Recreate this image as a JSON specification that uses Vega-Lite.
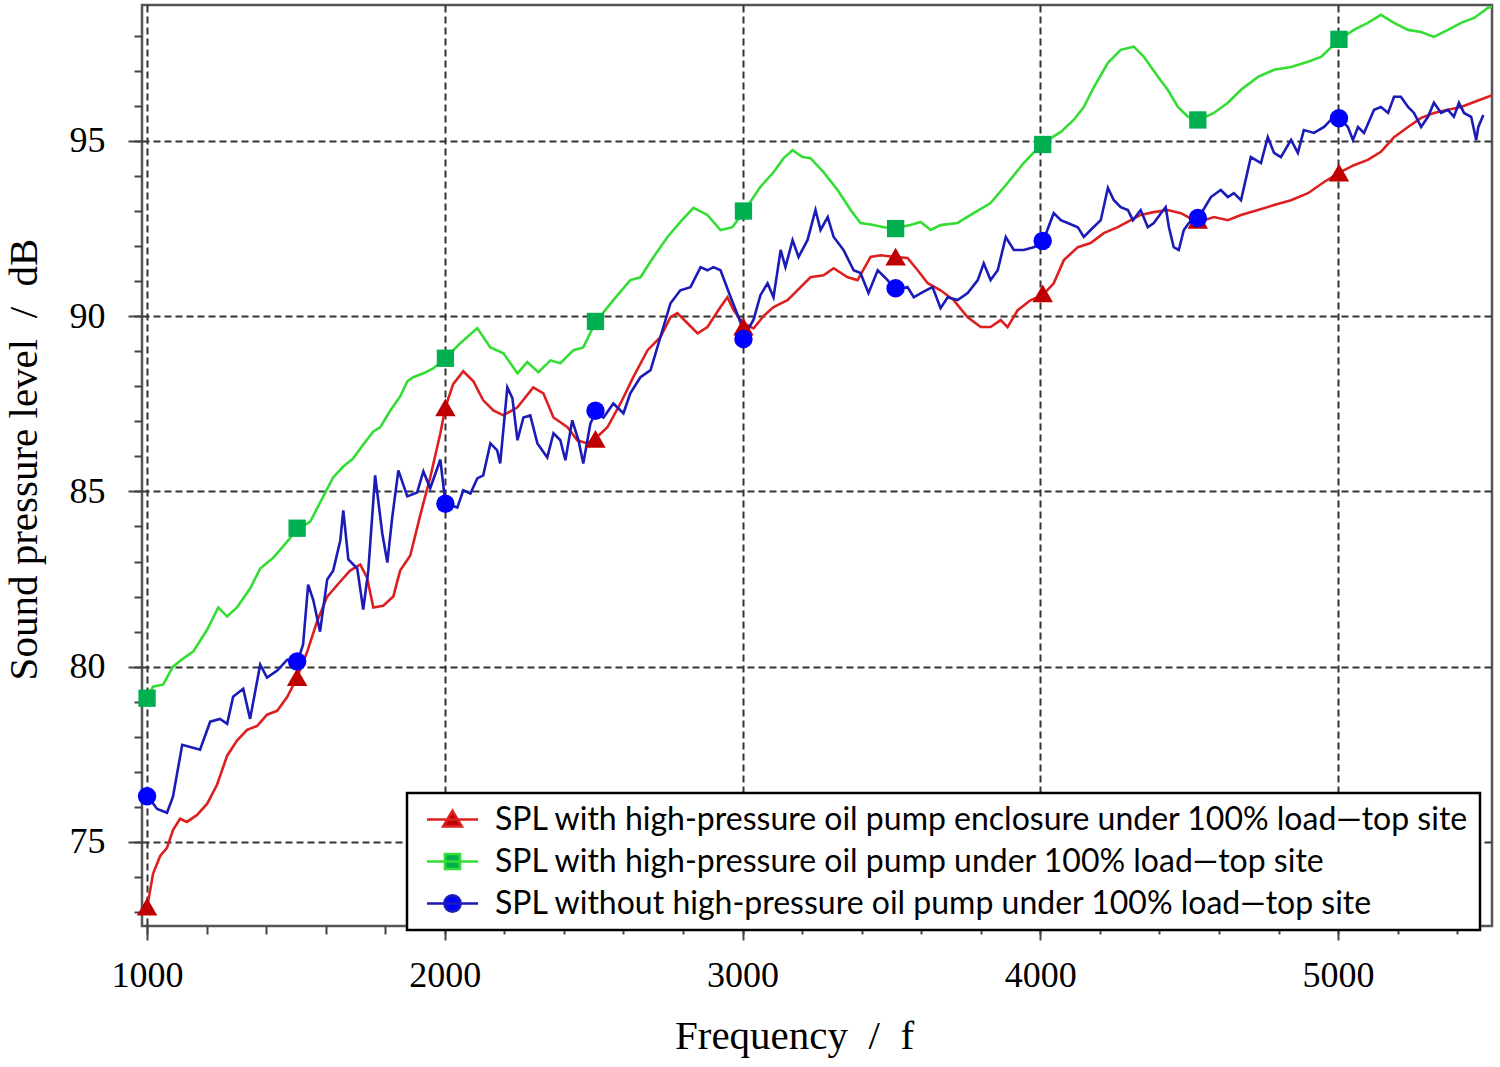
{
  "$schema": "https://vega.github.io/schema/vega-lite/v6.json",
  "width": 1350,
  "height": 921,
  "autosize": {"type": "none"},
  "padding": {"left": 142, "top": 5, "right": 8, "bottom": 141},
  "background": "white",
  "datasets": {
    "curves": [
      {"s":"r","f":1000,"v":73.11},{"s":"r","f":1020,"v":74.09},{"s":"r","f":1044,"v":74.6},{"s":"r","f":1067,"v":74.83},{"s":"r","f":1087,"v":75.34},{"s":"r","f":1111,"v":75.66},{"s":"r","f":1134,"v":75.57},{"s":"r","f":1168,"v":75.77},{"s":"r","f":1202,"v":76.09},{"s":"r","f":1235,"v":76.63},{"s":"r","f":1269,"v":77.46},{"s":"r","f":1302,"v":77.89},{"s":"r","f":1336,"v":78.2},{"s":"r","f":1370,"v":78.31},{"s":"r","f":1403,"v":78.63},{"s":"r","f":1437,"v":78.74},{"s":"r","f":1471,"v":79.14},{"s":"r","f":1504,"v":79.69},{"s":"r","f":1538,"v":80.43},{"s":"r","f":1571,"v":81.29},{"s":"r","f":1605,"v":82.0},{"s":"r","f":1649,"v":82.43},{"s":"r","f":1682,"v":82.74},{"s":"r","f":1716,"v":82.91},{"s":"r","f":1739,"v":82.54},{"s":"r","f":1760,"v":81.69},{"s":"r","f":1793,"v":81.74},{"s":"r","f":1827,"v":82.0},{"s":"r","f":1850,"v":82.74},{"s":"r","f":1884,"v":83.17},{"s":"r","f":1918,"v":84.34},{"s":"r","f":1951,"v":85.4},{"s":"r","f":1985,"v":86.66},{"s":"r","f":2002,"v":87.4},{"s":"r","f":2028,"v":88.06},{"s":"r","f":2062,"v":88.43},{"s":"r","f":2096,"v":88.14},{"s":"r","f":2129,"v":87.6},{"s":"r","f":2163,"v":87.31},{"s":"r","f":2197,"v":87.17},{"s":"r","f":2244,"v":87.4},{"s":"r","f":2297,"v":87.97},{"s":"r","f":2331,"v":87.8},{"s":"r","f":2365,"v":87.11},{"s":"r","f":2412,"v":86.83},{"s":"r","f":2445,"v":86.46},{"s":"r","f":2479,"v":86.37},{"s":"r","f":2506,"v":86.51},{"s":"r","f":2546,"v":86.83},{"s":"r","f":2590,"v":87.51},{"s":"r","f":2633,"v":88.26},{"s":"r","f":2681,"v":89.03},{"s":"r","f":2724,"v":89.4},{"s":"r","f":2758,"v":89.97},{"s":"r","f":2781,"v":90.09},{"s":"r","f":2815,"v":89.8},{"s":"r","f":2849,"v":89.51},{"s":"r","f":2882,"v":89.69},{"s":"r","f":2926,"v":90.26},{"s":"r","f":2949,"v":90.54},{"s":"r","f":2970,"v":90.17},{"s":"r","f":3003,"v":89.8},{"s":"r","f":3037,"v":89.65},{"s":"r","f":3070,"v":90.0},{"s":"r","f":3104,"v":90.26},{"s":"r","f":3151,"v":90.46},{"s":"r","f":3195,"v":90.83},{"s":"r","f":3228,"v":91.11},{"s":"r","f":3272,"v":91.17},{"s":"r","f":3306,"v":91.37},{"s":"r","f":3353,"v":91.11},{"s":"r","f":3386,"v":91.03},{"s":"r","f":3430,"v":91.69},{"s":"r","f":3464,"v":91.74},{"s":"r","f":3514,"v":91.69},{"s":"r","f":3554,"v":91.66},{"s":"r","f":3588,"v":91.31},{"s":"r","f":3622,"v":90.94},{"s":"r","f":3665,"v":90.74},{"s":"r","f":3709,"v":90.46},{"s":"r","f":3756,"v":89.97},{"s":"r","f":3800,"v":89.69},{"s":"r","f":3833,"v":89.69},{"s":"r","f":3867,"v":89.89},{"s":"r","f":3890,"v":89.69},{"s":"r","f":3924,"v":90.17},{"s":"r","f":3968,"v":90.46},{"s":"r","f":4008,"v":90.6},{"s":"r","f":4045,"v":90.94},{"s":"r","f":4079,"v":91.6},{"s":"r","f":4126,"v":91.97},{"s":"r","f":4169,"v":92.09},{"s":"r","f":4213,"v":92.37},{"s":"r","f":4260,"v":92.54},{"s":"r","f":4304,"v":92.74},{"s":"r","f":4337,"v":92.89},{"s":"r","f":4381,"v":92.97},{"s":"r","f":4428,"v":93.03},{"s":"r","f":4472,"v":92.94},{"s":"r","f":4516,"v":92.74},{"s":"r","f":4533,"v":92.69},{"s":"r","f":4583,"v":92.83},{"s":"r","f":4630,"v":92.74},{"s":"r","f":4674,"v":92.89},{"s":"r","f":4731,"v":93.03},{"s":"r","f":4785,"v":93.17},{"s":"r","f":4842,"v":93.31},{"s":"r","f":4899,"v":93.51},{"s":"r","f":4953,"v":93.83},{"s":"r","f":5003,"v":94.09},{"s":"r","f":5053,"v":94.31},{"s":"r","f":5100,"v":94.46},{"s":"r","f":5144,"v":94.69},{"s":"r","f":5188,"v":95.11},{"s":"r","f":5235,"v":95.4},{"s":"r","f":5279,"v":95.66},{"s":"r","f":5322,"v":95.8},{"s":"r","f":5369,"v":95.89},{"s":"r","f":5413,"v":95.97},{"s":"r","f":5457,"v":96.11},{"s":"r","f":5504,"v":96.26},{"s":"r","f":5517,"v":96.31},

      {"s":"g","f":1000,"v":79.11},{"s":"g","f":1020,"v":79.43},{"s":"g","f":1054,"v":79.49},{"s":"g","f":1087,"v":80.0},{"s":"g","f":1121,"v":80.23},{"s":"g","f":1155,"v":80.43},{"s":"g","f":1202,"v":81.06},{"s":"g","f":1239,"v":81.69},{"s":"g","f":1269,"v":81.43},{"s":"g","f":1302,"v":81.69},{"s":"g","f":1346,"v":82.23},{"s":"g","f":1380,"v":82.8},{"s":"g","f":1424,"v":83.11},{"s":"g","f":1457,"v":83.43},{"s":"g","f":1504,"v":83.91},{"s":"g","f":1548,"v":84.14},{"s":"g","f":1592,"v":84.86},{"s":"g","f":1625,"v":85.4},{"s":"g","f":1659,"v":85.71},{"s":"g","f":1692,"v":85.94},{"s":"g","f":1726,"v":86.34},{"s":"g","f":1760,"v":86.71},{"s":"g","f":1783,"v":86.83},{"s":"g","f":1817,"v":87.31},{"s":"g","f":1850,"v":87.71},{"s":"g","f":1874,"v":88.14},{"s":"g","f":1894,"v":88.26},{"s":"g","f":1928,"v":88.37},{"s":"g","f":1961,"v":88.51},{"s":"g","f":2002,"v":88.8},{"s":"g","f":2052,"v":89.23},{"s":"g","f":2109,"v":89.66},{"s":"g","f":2153,"v":89.11},{"s":"g","f":2197,"v":88.94},{"s":"g","f":2244,"v":88.37},{"s":"g","f":2277,"v":88.69},{"s":"g","f":2314,"v":88.4},{"s":"g","f":2355,"v":88.74},{"s":"g","f":2388,"v":88.66},{"s":"g","f":2432,"v":89.03},{"s":"g","f":2465,"v":89.11},{"s":"g","f":2506,"v":89.83},{"s":"g","f":2566,"v":90.46},{"s":"g","f":2623,"v":91.03},{"s":"g","f":2657,"v":91.11},{"s":"g","f":2701,"v":91.69},{"s":"g","f":2748,"v":92.26},{"s":"g","f":2791,"v":92.69},{"s":"g","f":2835,"v":93.09},{"s":"g","f":2882,"v":92.89},{"s":"g","f":2926,"v":92.46},{"s":"g","f":2966,"v":92.54},{"s":"g","f":3003,"v":92.97},{"s":"g","f":3060,"v":93.69},{"s":"g","f":3104,"v":94.11},{"s":"g","f":3138,"v":94.51},{"s":"g","f":3168,"v":94.74},{"s":"g","f":3201,"v":94.54},{"s":"g","f":3228,"v":94.51},{"s":"g","f":3272,"v":94.11},{"s":"g","f":3319,"v":93.6},{"s":"g","f":3363,"v":93.03},{"s":"g","f":3396,"v":92.66},{"s":"g","f":3440,"v":92.6},{"s":"g","f":3474,"v":92.54},{"s":"g","f":3514,"v":92.51},{"s":"g","f":3564,"v":92.6},{"s":"g","f":3598,"v":92.69},{"s":"g","f":3632,"v":92.46},{"s":"g","f":3665,"v":92.6},{"s":"g","f":3722,"v":92.66},{"s":"g","f":3776,"v":92.94},{"s":"g","f":3833,"v":93.23},{"s":"g","f":3890,"v":93.8},{"s":"g","f":3944,"v":94.37},{"s":"g","f":4008,"v":94.94},{"s":"g","f":4069,"v":95.26},{"s":"g","f":4112,"v":95.6},{"s":"g","f":4146,"v":95.97},{"s":"g","f":4180,"v":96.54},{"s":"g","f":4227,"v":97.23},{"s":"g","f":4270,"v":97.6},{"s":"g","f":4314,"v":97.69},{"s":"g","f":4348,"v":97.4},{"s":"g","f":4395,"v":96.83},{"s":"g","f":4428,"v":96.46},{"s":"g","f":4462,"v":95.97},{"s":"g","f":4496,"v":95.69},{"s":"g","f":4533,"v":95.6},{"s":"g","f":4583,"v":95.8},{"s":"g","f":4630,"v":96.09},{"s":"g","f":4674,"v":96.46},{"s":"g","f":4731,"v":96.83},{"s":"g","f":4785,"v":97.03},{"s":"g","f":4842,"v":97.11},{"s":"g","f":4899,"v":97.26},{"s":"g","f":4943,"v":97.4},{"s":"g","f":5003,"v":97.89},{"s":"g","f":5053,"v":98.17},{"s":"g","f":5100,"v":98.37},{"s":"g","f":5144,"v":98.6},{"s":"g","f":5188,"v":98.37},{"s":"g","f":5235,"v":98.17},{"s":"g","f":5279,"v":98.11},{"s":"g","f":5322,"v":97.97},{"s":"g","f":5369,"v":98.17},{"s":"g","f":5413,"v":98.37},{"s":"g","f":5457,"v":98.51},{"s":"g","f":5504,"v":98.8},{"s":"g","f":5517,"v":98.83},

      {"s":"b","f":1003,"v":76.29},{"s":"b","f":1034,"v":75.94},{"s":"b","f":1067,"v":75.83},{"s":"b","f":1087,"v":76.29},{"s":"b","f":1118,"v":77.77},{"s":"b","f":1145,"v":77.71},{"s":"b","f":1178,"v":77.63},{"s":"b","f":1212,"v":78.43},{"s":"b","f":1245,"v":78.51},{"s":"b","f":1269,"v":78.37},{"s":"b","f":1289,"v":79.14},{"s":"b","f":1323,"v":79.37},{"s":"b","f":1346,"v":78.51},{"s":"b","f":1380,"v":80.06},{"s":"b","f":1403,"v":79.69},{"s":"b","f":1437,"v":79.89},{"s":"b","f":1471,"v":80.2},{"s":"b","f":1504,"v":80.11},{"s":"b","f":1524,"v":80.63},{"s":"b","f":1541,"v":82.34},{"s":"b","f":1558,"v":81.91},{"s":"b","f":1581,"v":81.0},{"s":"b","f":1605,"v":82.49},{"s":"b","f":1625,"v":82.74},{"s":"b","f":1649,"v":83.6},{"s":"b","f":1659,"v":84.46},{"s":"b","f":1676,"v":83.06},{"s":"b","f":1706,"v":82.8},{"s":"b","f":1726,"v":81.63},{"s":"b","f":1743,"v":82.74},{"s":"b","f":1766,"v":85.46},{"s":"b","f":1790,"v":83.8},{"s":"b","f":1807,"v":82.97},{"s":"b","f":1823,"v":84.23},{"s":"b","f":1844,"v":85.6},{"s":"b","f":1874,"v":84.86},{"s":"b","f":1907,"v":84.97},{"s":"b","f":1928,"v":85.57},{"s":"b","f":1951,"v":85.09},{"s":"b","f":1985,"v":85.91},{"s":"b","f":2002,"v":84.66},{"s":"b","f":2042,"v":84.54},{"s":"b","f":2062,"v":85.03},{"s":"b","f":2086,"v":84.94},{"s":"b","f":2109,"v":85.37},{"s":"b","f":2129,"v":85.46},{"s":"b","f":2153,"v":86.37},{"s":"b","f":2176,"v":86.17},{"s":"b","f":2186,"v":85.8},{"s":"b","f":2210,"v":87.97},{"s":"b","f":2227,"v":87.66},{"s":"b","f":2244,"v":86.46},{"s":"b","f":2264,"v":87.11},{"s":"b","f":2287,"v":87.17},{"s":"b","f":2311,"v":86.37},{"s":"b","f":2344,"v":85.97},{"s":"b","f":2365,"v":86.66},{"s":"b","f":2388,"v":86.46},{"s":"b","f":2405,"v":85.89},{"s":"b","f":2428,"v":87.03},{"s":"b","f":2449,"v":86.46},{"s":"b","f":2465,"v":85.8},{"s":"b","f":2489,"v":86.94},{"s":"b","f":2506,"v":87.23},{"s":"b","f":2533,"v":87.11},{"s":"b","f":2566,"v":87.51},{"s":"b","f":2600,"v":87.23},{"s":"b","f":2623,"v":87.8},{"s":"b","f":2657,"v":88.26},{"s":"b","f":2691,"v":88.46},{"s":"b","f":2724,"v":89.4},{"s":"b","f":2758,"v":90.37},{"s":"b","f":2791,"v":90.74},{"s":"b","f":2825,"v":90.83},{"s":"b","f":2859,"v":91.4},{"s":"b","f":2882,"v":91.31},{"s":"b","f":2902,"v":91.4},{"s":"b","f":2926,"v":91.31},{"s":"b","f":2960,"v":90.54},{"s":"b","f":2993,"v":89.83},{"s":"b","f":3003,"v":89.4},{"s":"b","f":3037,"v":89.9},{"s":"b","f":3060,"v":90.6},{"s":"b","f":3084,"v":90.94},{"s":"b","f":3104,"v":90.54},{"s":"b","f":3128,"v":91.89},{"s":"b","f":3144,"v":91.4},{"s":"b","f":3168,"v":92.17},{"s":"b","f":3188,"v":91.69},{"s":"b","f":3218,"v":92.17},{"s":"b","f":3245,"v":93.03},{"s":"b","f":3262,"v":92.46},{"s":"b","f":3286,"v":92.83},{"s":"b","f":3306,"v":92.26},{"s":"b","f":3339,"v":91.89},{"s":"b","f":3373,"v":91.31},{"s":"b","f":3396,"v":91.23},{"s":"b","f":3423,"v":90.66},{"s":"b","f":3454,"v":91.31},{"s":"b","f":3487,"v":91.03},{"s":"b","f":3514,"v":90.74},{"s":"b","f":3554,"v":90.83},{"s":"b","f":3575,"v":90.54},{"s":"b","f":3605,"v":90.69},{"s":"b","f":3638,"v":90.83},{"s":"b","f":3665,"v":90.23},{"s":"b","f":3689,"v":90.54},{"s":"b","f":3722,"v":90.46},{"s":"b","f":3756,"v":90.66},{"s":"b","f":3790,"v":91.03},{"s":"b","f":3810,"v":91.51},{"s":"b","f":3833,"v":91.03},{"s":"b","f":3857,"v":91.31},{"s":"b","f":3884,"v":92.26},{"s":"b","f":3911,"v":91.89},{"s":"b","f":3944,"v":91.89},{"s":"b","f":3978,"v":91.97},{"s":"b","f":4008,"v":92.11},{"s":"b","f":4045,"v":92.94},{"s":"b","f":4069,"v":92.74},{"s":"b","f":4092,"v":92.66},{"s":"b","f":4126,"v":92.54},{"s":"b","f":4146,"v":92.26},{"s":"b","f":4169,"v":92.46},{"s":"b","f":4203,"v":92.74},{"s":"b","f":4227,"v":93.66},{"s":"b","f":4247,"v":93.31},{"s":"b","f":4270,"v":93.11},{"s":"b","f":4294,"v":93.03},{"s":"b","f":4311,"v":92.74},{"s":"b","f":4337,"v":93.03},{"s":"b","f":4361,"v":92.54},{"s":"b","f":4381,"v":92.66},{"s":"b","f":4405,"v":92.94},{"s":"b","f":4421,"v":93.11},{"s":"b","f":4432,"v":92.54},{"s":"b","f":4448,"v":91.97},{"s":"b","f":4465,"v":91.89},{"s":"b","f":4482,"v":92.46},{"s":"b","f":4499,"v":92.66},{"s":"b","f":4533,"v":92.83},{"s":"b","f":4573,"v":93.4},{"s":"b","f":4606,"v":93.6},{"s":"b","f":4630,"v":93.4},{"s":"b","f":4650,"v":93.51},{"s":"b","f":4674,"v":93.31},{"s":"b","f":4707,"v":94.54},{"s":"b","f":4741,"v":94.37},{"s":"b","f":4764,"v":95.11},{"s":"b","f":4785,"v":94.66},{"s":"b","f":4808,"v":94.54},{"s":"b","f":4842,"v":95.03},{"s":"b","f":4865,"v":94.66},{"s":"b","f":4885,"v":95.31},{"s":"b","f":4919,"v":95.23},{"s":"b","f":4953,"v":95.4},{"s":"b","f":4976,"v":95.6},{"s":"b","f":5003,"v":95.66},{"s":"b","f":5033,"v":95.4},{"s":"b","f":5050,"v":95.03},{"s":"b","f":5067,"v":95.4},{"s":"b","f":5087,"v":95.23},{"s":"b","f":5121,"v":95.89},{"s":"b","f":5144,"v":95.97},{"s":"b","f":5168,"v":95.8},{"s":"b","f":5188,"v":96.26},{"s":"b","f":5211,"v":96.26},{"s":"b","f":5235,"v":95.97},{"s":"b","f":5255,"v":95.8},{"s":"b","f":5279,"v":95.4},{"s":"b","f":5302,"v":95.69},{"s":"b","f":5322,"v":96.09},{"s":"b","f":5346,"v":95.8},{"s":"b","f":5369,"v":95.89},{"s":"b","f":5389,"v":95.69},{"s":"b","f":5406,"v":96.09},{"s":"b","f":5423,"v":95.8},{"s":"b","f":5447,"v":95.69},{"s":"b","f":5464,"v":95.03},{"s":"b","f":5471,"v":95.4},{"s":"b","f":5488,"v":95.74}
    ],
    "markers": [
      {"s":"r","f":1000,"v":73.15},{"s":"r","f":1504,"v":79.7},{"s":"r","f":2002,"v":87.4},{"s":"r","f":2506,"v":86.5},{"s":"r","f":3003,"v":89.7},{"s":"r","f":3514,"v":91.7},{"s":"r","f":4008,"v":90.65},{"s":"r","f":4529,"v":92.75},{"s":"r","f":5003,"v":94.1},
      {"s":"g","f":1000,"v":79.1},{"s":"g","f":1504,"v":83.95},{"s":"g","f":2002,"v":88.8},{"s":"g","f":2506,"v":89.85},{"s":"g","f":3003,"v":93.0},{"s":"g","f":3514,"v":92.5},{"s":"g","f":4008,"v":94.9},{"s":"g","f":4529,"v":95.6},{"s":"g","f":5003,"v":97.9},
      {"s":"b","f":1000,"v":76.3},{"s":"b","f":1504,"v":80.15},{"s":"b","f":2002,"v":84.65},{"s":"b","f":2506,"v":87.3},{"s":"b","f":3003,"v":89.35},{"s":"b","f":3514,"v":90.8},{"s":"b","f":4008,"v":92.15},{"s":"b","f":4529,"v":92.8},{"s":"b","f":5003,"v":95.65}
    ]
  },
  "layer": [
    {
      "data": {"name": "curves"},
      "mark": {"type": "line", "strokeWidth": 2.6, "interpolate": "linear"},
      "encoding": {
        "x": {
          "field": "f",
          "type": "quantitative",
          "scale": {"domain": [983, 5517], "nice": false, "zero": false},
          "axis": {
            "orient": "bottom",
            "values": [1000, 2000, 3000, 4000, 5000],
            "format": "d",
            "grid": true,
            "gridDash": [7, 4],
            "gridColor": "#333",
            "gridWidth": 2,
            "domain": false,
            "tickSize": 14,
            "tickWidth": 2,
            "tickColor": "#444",
            "labelFont": "Liberation Serif",
            "labelFontSize": 36,
            "labelColor": "#000",
            "labelPadding": 18,
            "title": "Frequency\u00a0\u00a0/\u00a0\u00a0f",
            "titleFont": "Liberation Serif",
            "titleFontSize": 41,
            "titleFontWeight": "normal",
            "titleColor": "#000",
            "titlePadding": 23,
            "titleX": 652
          }
        },
        "y": {
          "field": "v",
          "type": "quantitative",
          "scale": {"domain": [72.6, 98.88], "nice": false, "zero": false},
          "axis": {
            "orient": "left",
            "values": [75, 80, 85, 90, 95],
            "grid": true,
            "gridDash": [7, 4],
            "gridColor": "#333",
            "gridWidth": 2,
            "domain": false,
            "tickSize": 14,
            "tickWidth": 2,
            "tickColor": "#444",
            "labelFont": "Liberation Serif",
            "labelFontSize": 36,
            "labelColor": "#000",
            "labelPadding": 23,
            "title": "Sound pressure level\u00a0\u00a0/\u00a0\u00a0dB",
            "titleFont": "Liberation Serif",
            "titleFontSize": 41,
            "titleFontWeight": "normal",
            "titleColor": "#000",
            "titlePadding": 24,
            "titleY": 454
          }
        },
        "color": {
          "field": "s",
          "type": "nominal",
          "scale": {"domain": ["r", "g", "b"], "range": ["#dd1f1f", "#33dd33", "#1b1bb8"]},
          "legend": {
            "title": null,
            "orient": "none",
            "legendX": 265,
            "legendY": 788,
            "padding": 10,
            "fillColor": "white",
            "strokeColor": "#000",
            "symbolSize": 900,
            "symbolOffset": 19,
            "labelOffset": 26,
            "rowPadding": 9,
            "labelFont": "Lato",
            "labelFontSize": 32,
            "labelColor": "#000",
            "labelLimit": 3000,
            "labelExpr": "datum.value === 'r' ? 'SPL with high-pressure oil pump enclosure under 100% load—top site' : datum.value === 'g' ? 'SPL with high-pressure oil pump under 100% load—top site' : 'SPL without high-pressure oil pump under 100% load—top site'",
            "encode": {
              "legend": {
                "update": {
                  "strokeWidth": {"value": 2.5}
                }
              },
              "symbols": {
                "update": {
                  "shape": {"signal": "datum.value === 'r' ? 'M-1.7,0L1.7,0M0,-0.58L0.62,0.46L-0.62,0.46Z' : datum.value === 'g' ? 'M-1.7,0L1.7,0M-0.5,-0.5L0.5,-0.5L0.5,0.5L-0.5,0.5Z' : 'M-1.7,0L1.7,0M0.54,0A0.54,0.54 0 1,1 -0.54,0A0.54,0.54 0 1,1 0.54,0Z'"},
                  "fill": {"signal": "datum.value === 'r' ? '#c00000' : datum.value === 'g' ? '#00b050' : '#0000ff'"},
                  "stroke": {"signal": "datum.value === 'r' ? '#dd1f1f' : datum.value === 'g' ? '#33dd33' : '#1b1bb8'"},
                  "strokeWidth": {"value": 2.6},
                  "fillOpacity": {"value": 1},
                  "strokeOpacity": {"value": 1},
                  "opacity": {"value": 1}
                }
              }
            }
          }
        }
      }
    },
    {
      "data": {"name": "markers"},
      "transform": [{"filter": "datum.s === 'r'"}],
      "mark": {"type": "point", "shape": "triangle-up", "filled": true, "color": "#c00000", "opacity": 1, "size": 420, "strokeWidth": 0},
      "encoding": {
        "x": {
          "field": "f",
          "type": "quantitative",
          "axis": {
            "orient": "bottom",
            "values": [1000, 1200, 1400, 1600, 1800, 2000, 2200, 2400, 2600, 2800, 3000, 3200, 3400, 3600, 3800, 4000, 4200, 4400, 4600, 4800, 5000, 5200, 5400],
            "labels": false,
            "grid": false,
            "domain": false,
            "tickSize": 8,
            "tickWidth": 2,
            "tickColor": "#444",
            "title": null
          }
        },
        "y": {
          "field": "v",
          "type": "quantitative",
          "axis": {
            "orient": "left",
            "values": [73, 74, 75, 76, 77, 78, 79, 80, 81, 82, 83, 84, 85, 86, 87, 88, 89, 90, 91, 92, 93, 94, 95, 96, 97, 98],
            "labels": false,
            "grid": false,
            "domain": false,
            "tickSize": 8,
            "tickWidth": 2,
            "tickColor": "#444",
            "title": null
          }
        }
      }
    },
    {
      "data": {"name": "markers"},
      "transform": [{"filter": "datum.s === 'g'"}],
      "mark": {"type": "point", "shape": "square", "filled": true, "color": "#00b050", "opacity": 1, "size": 300, "strokeWidth": 0},
      "encoding": {
        "x": {"field": "f", "type": "quantitative", "axis": null},
        "y": {"field": "v", "type": "quantitative", "axis": null}
      }
    },
    {
      "data": {"name": "markers"},
      "transform": [{"filter": "datum.s === 'b'"}],
      "mark": {"type": "point", "shape": "circle", "filled": true, "color": "#0000ff", "opacity": 1, "size": 340, "strokeWidth": 0},
      "encoding": {
        "x": {"field": "f", "type": "quantitative", "axis": null},
        "y": {"field": "v", "type": "quantitative", "axis": null}
      }
    }
  ],
  "resolve": {"axis": {"x": "independent", "y": "independent"}},
  "config": {
    "view": {"stroke": "#555", "strokeWidth": 2.5},
    "axis": {"labelFontWeight": "normal"}
  }
}
